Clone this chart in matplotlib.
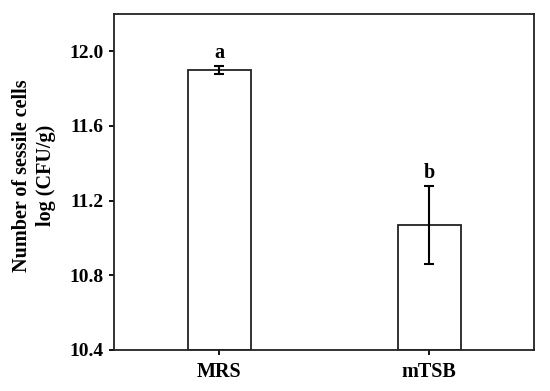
import matplotlib
matplotlib.use("Agg")
import matplotlib.pyplot as plt

media = ["MRS", "mTSB"]
means = [11.90, 11.07]
errors = [0.02, 0.21]
letters = ["a", "b"]

plt.rcParams["font.family"] = "Liberation Serif"
plt.rcParams["font.weight"] = "bold"

fig = plt.figure(figsize=(5.5, 3.91), dpi=100)
ax = fig.add_axes([114/550, 1 - 350/391, 420/550, 336/391])

x = range(len(media))
ax.bar(x, [m - 10.4 for m in means], bottom=10.4, width=0.30,
       color="white", edgecolor="#222222", linewidth=1.3)
ax.errorbar(x, means, yerr=errors, fmt="none", ecolor="black",
            elinewidth=1.5, capsize=3.5, capthick=1.5)
for i in x:
    ax.text(i, means[i] + errors[i] + 0.015, letters[i], ha="center", va="bottom",
            fontsize=14.5, fontweight="bold")

ax.set_xlim(-0.5, 1.5)
ax.set_ylim(10.4, 12.2)
ax.set_yticks([10.4, 10.8, 11.2, 11.6, 12.0])
ax.set_yticklabels(["10.4", "10.8", "11.2", "11.6", "12.0"])
ax.set_xticks(list(x))
ax.set_xticklabels(media)
ax.tick_params(direction="out", length=3.5, width=1.3, pad=4, labelsize=14, top=False, right=False)
ax.tick_params(axis="x", labelsize=14.5, pad=5)
for s in ax.spines.values():
    s.set_linewidth(1.3)
    s.set_color("#222222")
ax.set_ylabel("Number of sessile cells\nlog (CFU/g)", fontsize=14.5, fontweight="bold",
              linespacing=1.3)
ax.yaxis.set_label_coords(-0.138, 0.52)

fig.savefig("out.png", dpi=100)
